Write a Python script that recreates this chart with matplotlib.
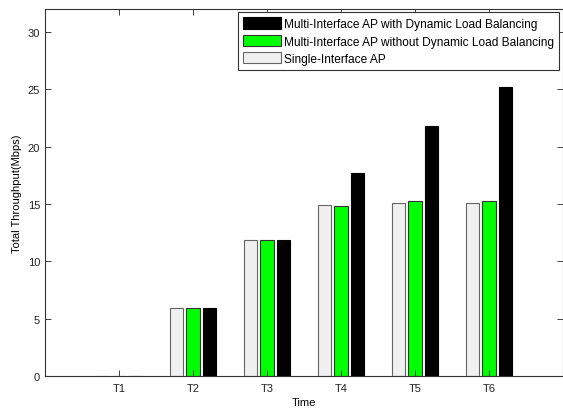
import matplotlib
matplotlib.use("Agg")
import matplotlib.pyplot as plt
import numpy as np

plt.rcParams['font.family'] = ['Liberation Sans', 'DejaVu Sans']

categories = ["T1", "T2", "T3", "T4", "T5", "T6"]
single_ap = [0, 5.9, 11.9, 14.9, 15.1, 15.05]
multi_no_dlb = [0, 5.9, 11.9, 14.8, 15.3, 15.3]
multi_dlb = [0, 5.9, 11.9, 17.7, 21.8, 25.2]
labels = ["Single-Interface AP",
          "Multi-Interface AP without Dynamic Load Balancing",
          "Multi-Interface AP with Dynamic Load Balancing"]

fig = plt.figure(figsize=(5.63, 4.10), dpi=100)
ax = fig.add_axes([45/563, 1-377/410, 518/563, 367/410])

x = np.arange(1, len(categories) + 1)
w = 0.18
off = 0.22
b1 = ax.bar(x - off, single_ap, w, color='#f0f0f0', edgecolor='#666666', linewidth=0.8, label=labels[0])
b2 = ax.bar(x, multi_no_dlb, w, color='#00ff00', edgecolor='#333333', linewidth=0.8, label=labels[1])
b3 = ax.bar(x + off, multi_dlb, w, color='#000000', edgecolor='#000000', linewidth=0.8, label=labels[2])

ax.set_xlim(0, 7)
ax.set_ylim(0, 32)
ax.set_xticks(x)
ax.set_xticklabels(categories)
ax.set_yticks(np.arange(0, 31, 5))
ax.tick_params(direction='in', top=True, right=True, labelsize=8, length=4, width=0.6, colors='#222222')
ax.tick_params(axis='x', pad=5)
for s in ax.spines.values():
    s.set_linewidth(0.8)
    s.set_color('#333333')
ax.set_xlabel("Time", fontsize=8, labelpad=3)
ax.set_ylabel("Total Throughput(Mbps)", fontsize=8, labelpad=4)

leg = ax.legend([b3, b2, b1], [labels[2], labels[1], labels[0]], loc='upper right',
                fontsize=8.6, handlelength=3.2, handleheight=1.05, handletextpad=0.2,
                labelspacing=0.4, borderpad=0.45, borderaxespad=0.2, fancybox=False,
                framealpha=1, edgecolor='#333333', bbox_to_anchor=(0.997, 0.998))
leg.get_frame().set_linewidth(0.8)

fig.savefig("out.png", dpi=100)
